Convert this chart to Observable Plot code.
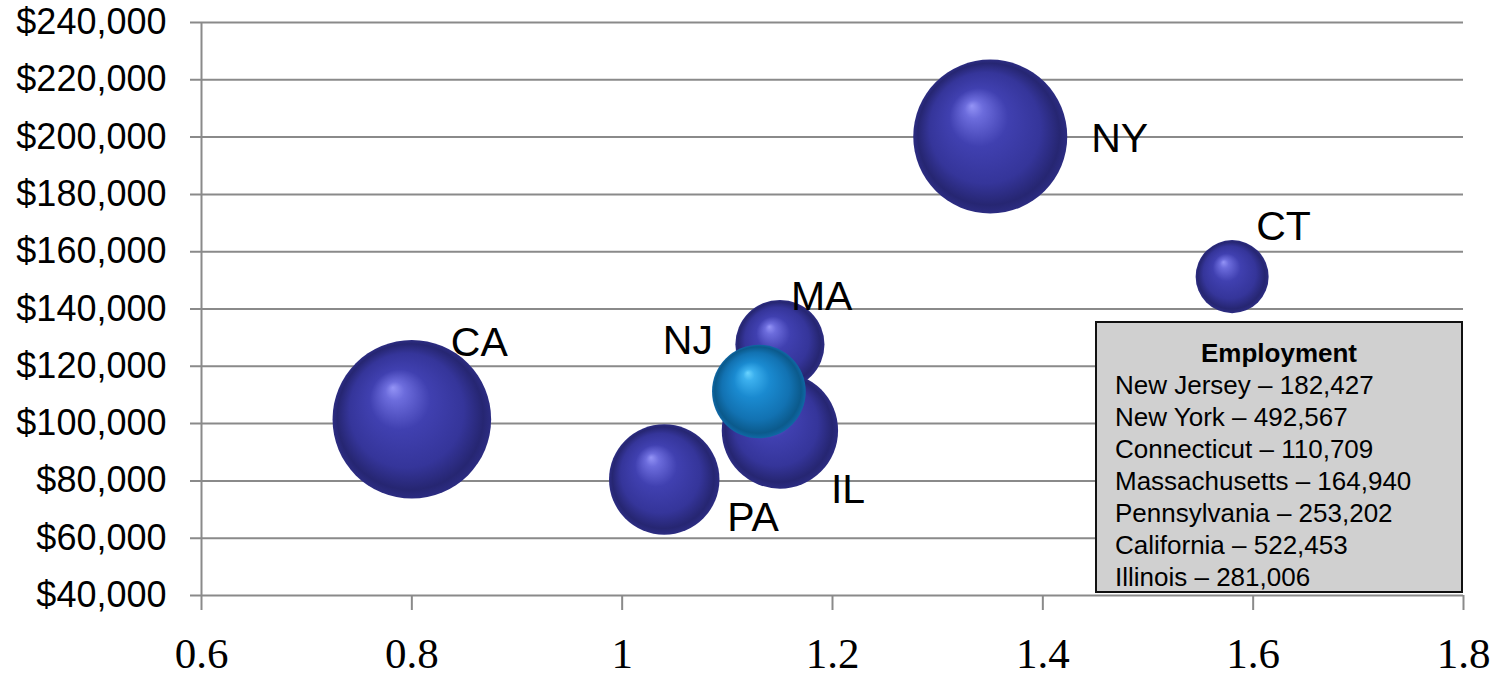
<!DOCTYPE html>
<html>
<head>
<meta charset="utf-8">
<script src="https://cdn.jsdelivr.net/npm/d3@7"></script>
<script src="https://cdn.jsdelivr.net/npm/@observablehq/plot@0.6"></script>
<style>
  html, body { margin: 0; padding: 0; background: #fff; }
  #wrap { position: relative; width: 1501px; height: 678px; }
  #legend {
    position: absolute; left: 1095px; top: 321px; width: 364px; height: 268px;
    background: #d0d0d0; border: 2px solid #111; box-sizing: content-box;
    font-family: "Liberation Sans", Arial, sans-serif; font-size: 26px; color: #000;
  }
  #legend .title { font-weight: bold; text-align: center; margin-top: 15px; line-height: 31px; }
  #legend .row { padding-left: 18px; line-height: 32px; white-space: nowrap; }
</style>
</head>
<body>
<div id="wrap"></div>
<script>
// ---- data ----
const states      = ["CA", "PA", "MA", "IL", "NY", "CT", "NJ"];
const stateNames  = ["California", "Pennsylvania", "Massachusetts", "Illinois", "New York", "Connecticut", "New Jersey"];
const ratio       = [0.80, 1.04, 1.15, 1.15, 1.35, 1.58, 1.13];
const avgWage     = [101500, 80500, 127600, 97600, 200200, 151300, 111200];
const employment  = [522453, 253202, 164940, 281006, 492567, 110709, 182427];
const legendOrder = ["NJ", "NY", "CT", "MA", "PA", "CA", "IL"];
const yTicks = [40000, 60000, 80000, 100000, 120000, 140000, 160000, 180000, 200000, 220000, 240000];
const xTicks = [0.6, 0.8, 1, 1.2, 1.4, 1.6, 1.8];

const rows = states.map((s, i) => ({state: s, name: stateNames[i], x: ratio[i], y: avgWage[i], emp: employment[i]}));
const dark = rows.filter(d => d.state !== "NJ");
const nj = rows.filter(d => d.state === "NJ");

// label placement (styling)
const labelStyle = {
  NY: {dx: 101, dy: 2, anchor: "start"},
  CT: {dx: 24, dy: -50, anchor: "start"},
  MA: {dx: 11, dy: -48, anchor: "start"},
  NJ: {dx: -46, dy: -51, anchor: "end"},
  CA: {dx: 39, dy: -76, anchor: "start"},
  PA: {dx: 63, dy: 38, anchor: "start"},
  IL: {dx: 51, dy: 59, anchor: "start"}
};

const defs = () => {
  const g = d3.create("svg:defs");
  const mk = (id, stops) => {
    const rg = g.append("radialGradient").attr("id", id)
      .attr("cx", "0.5").attr("cy", "0.5").attr("r", "0.5")
      .attr("fx", "0.38").attr("fy", "0.3");
    stops.forEach(([o, c]) => rg.append("stop").attr("offset", o).attr("stop-color", c));
  };
  mk("gBlue", [["0%", "#9494f6"], ["12%", "#6c6cdc"], ["38%", "#4040b0"], ["72%", "#35359a"], ["92%", "#262672"], ["100%", "#2c2c82"]]);
  mk("gNJ", [["0%", "#6ad4ff"], ["12%", "#3cb0ee"], ["38%", "#1a8ad0"], ["72%", "#1272b2"], ["92%", "#0b5a8c"], ["100%", "#0f68a6"]]);
  return g.node();
};

const font = "'Liberation Sans', Arial, sans-serif";
const rOpt = {type: "sqrt", domain: [0, 522453], range: [0, 79.3]};

const labelMarks = rows.map(d => {
  const st = labelStyle[d.state];
  return Plot.text([d], {x: "x", y: "y", text: "state", dx: st.dx, dy: st.dy, textAnchor: st.anchor,
    fontSize: 41, fontFamily: font, fill: "#000"});
});

const chart = Plot.plot({
  width: 1501,
  height: 678,
  marginLeft: 201,
  marginRight: 38,
  marginTop: 22,
  marginBottom: 83,
  style: {fontFamily: font, background: "transparent", overflow: "visible"},
  x: {domain: [0.6, 1.8]},
  y: {domain: [40000, 240000]},
  r: rOpt,
  marks: [
    defs,
    Plot.ruleY(yTicks, {stroke: "#8a8a8a", strokeWidth: 2, insetLeft: -11}),
    Plot.ruleX([0.6], {stroke: "#8a8a8a", strokeWidth: 2}),
    Plot.axisY({ticks: yTicks, tickSize: 0, tickPadding: 35, tickFormat: d3.format("$,"),
      fontSize: 36, fill: "#000", label: null}),
    Plot.axisX({ticks: xTicks, tickSize: 15, tickPadding: 27, stroke: "#8a8a8a", strokeWidth: 2,
      fill: "#000", fontSize: 43, fontFamily: "'Liberation Serif', 'DejaVu Serif', serif",
      tickFormat: d => String(d), label: null}),
    Plot.dot(dark, {x: "x", y: "y", r: "emp", fill: "url(#gBlue)", stroke: "none", sort: null}),
    Plot.dot(nj, {x: "x", y: "y", r: "emp", fill: "url(#gNJ)", stroke: "none"}),
    ...labelMarks
  ]
});

const wrap = document.getElementById("wrap");
wrap.appendChild(chart);

const legend = document.createElement("div");
legend.id = "legend";
const title = document.createElement("div");
title.className = "title";
title.textContent = "Employment";
legend.appendChild(title);
legendOrder.forEach(s => {
  const d = rows.find(r => r.state === s);
  const row = document.createElement("div");
  row.className = "row";
  row.textContent = `${d.name} – ${d3.format(",")(d.emp)}`;
  legend.appendChild(row);
});
wrap.appendChild(legend);
</script>
</body>
</html>
